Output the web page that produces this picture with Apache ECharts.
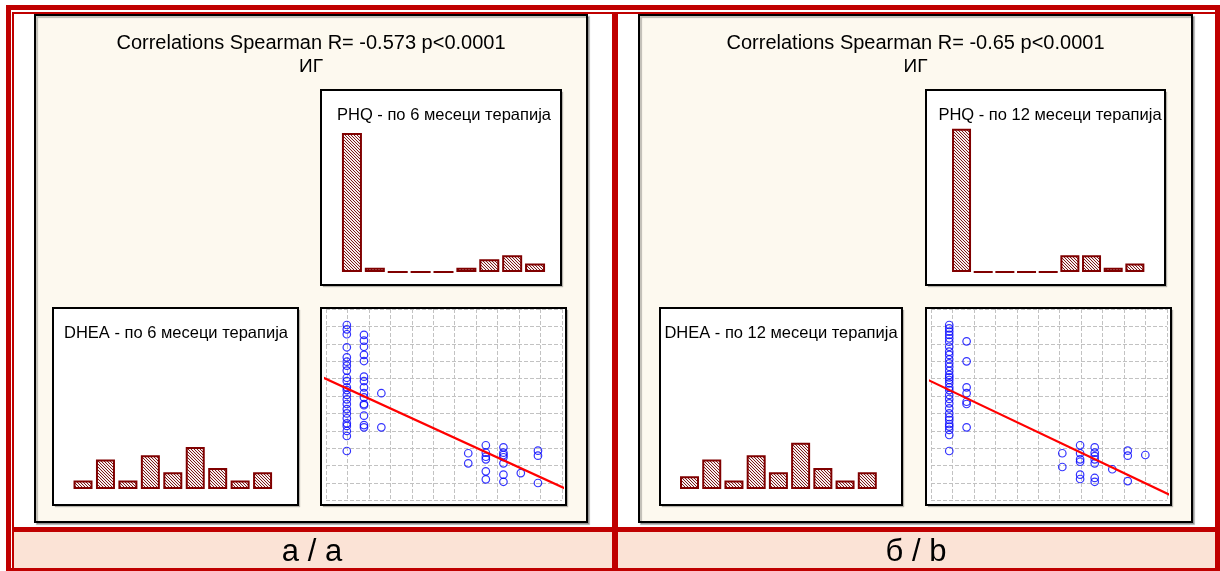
<!DOCTYPE html>
<html>
<head>
<meta charset="utf-8">
<style>
  html, body { margin: 0; padding: 0; background: #fff; }
  #chart { width: 1220px; height: 571px; }
</style>
<script src="https://cdn.jsdelivr.net/npm/echarts@6.0.0/dist/echarts.min.js"></script>
</head>
<body>
<div id="chart"></div>
<script>
// ---- data ----
const titles = ["Correlations Spearman R= -0.573 p<0.0001", "Correlations Spearman R= -0.65 p<0.0001"];
const groupLabel = "ИГ";
const phqLabels = ["PHQ - по 6 месеци терапија", "PHQ - по 12 месеци терапија"];
const dheaLabels = ["DHEA - по 6 месеци терапија", "DHEA - по 12 месеци терапија"];
const panelCaptions = ["а / a", "б / b"];

const bins = ["1", "2", "3", "4", "5", "6", "7", "8", "9"];
const phq6 = [33, 1, 0, 0, 0, 1, 3, 4, 2];
const dhea6 = [2, 7, 2, 8, 4, 10, 5, 2, 4];
const phq12 = [34, 0, 0, 0, 0, 4, 4, 1, 2];
const dhea12 = [3, 7, 2, 8, 4, 11, 5, 2, 4];

// scatter points in grid units (x: PHQ, y: DHEA)
const scatter6 = [
  [0.97, 10.08], [0.97, 9.83], [0.97, 9.55], [0.97, 8.80], [0.97, 8.22], [0.97, 7.97], [0.97, 7.74],
  [0.97, 7.46], [0.97, 7.05], [0.97, 6.86], [0.97, 6.50], [0.97, 6.34], [0.97, 6.06], [0.97, 5.81],
  [0.97, 5.54], [0.97, 5.25], [0.97, 5.00], [0.97, 4.72], [0.97, 4.43], [0.97, 4.28], [0.97, 3.99],
  [0.97, 3.70], [0.97, 2.84],
  [1.77, 9.51], [1.77, 9.18], [1.77, 8.83], [1.77, 8.36], [1.77, 8.01], [1.77, 7.11], [1.77, 6.86],
  [1.77, 6.50], [1.77, 6.16], [1.77, 5.92], [1.77, 5.54], [1.77, 5.47], [1.77, 4.87], [1.77, 4.33],
  [1.77, 4.20],
  [2.58, 6.16], [2.58, 4.20],
  [6.63, 2.71], [6.63, 2.13],
  [7.45, 3.17], [7.45, 2.74], [7.45, 2.51], [7.45, 2.36], [7.45, 1.67], [7.45, 1.21],
  [8.27, 3.05], [8.27, 2.74], [8.27, 2.61], [8.27, 2.48], [8.27, 2.13], [8.27, 1.48], [8.27, 1.07],
  [9.08, 1.57],
  [9.88, 2.86], [9.88, 2.57], [9.88, 1.00]
];
const scatter12 = [
  [0.85, 10.08], [0.85, 9.89], [0.85, 9.70], [0.85, 9.51], [0.85, 9.32], [0.85, 9.12], [0.85, 8.83],
  [0.85, 8.55], [0.85, 8.36], [0.85, 8.11], [0.85, 7.88], [0.85, 7.68], [0.85, 7.44], [0.85, 7.21],
  [0.85, 7.07], [0.85, 6.92], [0.85, 6.73], [0.85, 6.50], [0.85, 6.34], [0.85, 6.06], [0.85, 5.83],
  [0.85, 5.58], [0.85, 5.29], [0.85, 5.00], [0.85, 4.78], [0.85, 4.62], [0.85, 4.39], [0.85, 4.24],
  [0.85, 4.05], [0.85, 3.76], [0.85, 2.84],
  [1.66, 9.14], [1.66, 7.99], [1.66, 6.50], [1.66, 6.16], [1.66, 5.67], [1.66, 5.54], [1.66, 4.20],
  [6.12, 2.71], [6.12, 1.92],
  [6.95, 3.17], [6.95, 2.71], [6.95, 2.36], [6.95, 2.22], [6.95, 1.48], [6.95, 1.23],
  [7.63, 3.05], [7.63, 2.74], [7.63, 2.55], [7.63, 2.36], [7.63, 2.13], [7.63, 1.29], [7.63, 1.07],
  [8.45, 1.79],
  [9.17, 2.86], [9.17, 2.57], [9.17, 1.11],
  [9.99, 2.61]
];
// fitted line end points
const fit6 = [[-0.23, 7.11], [11.14, 0.69]];
const fit12 = [[-0.23, 6.98], [11.14, 0.31]];

// ---- layout ----
const RED = "#c00000";
const PINK = "#fbe3d6";
const CREAM = "#fdf9ef";
const BAR_MAX = 36;
const PX_PER_COUNT = 4.21;

const panels = [
  {
    title: titles[0], phqLabel: phqLabels[0], dheaLabel: dheaLabels[0], caption: panelCaptions[0],
    phq: phq6, dhea: dhea6, points: scatter6, fit: fit6,
    frame: [35, 15, 552, 507], cx: 311, capX: 312,
    phqBox: [321, 90, 240, 195], dheaBox: [53, 308, 245, 197], scBox: [321, 308, 245, 197],
    phqGrid: [340.5, 206, 20], dheaGrid: [71.8, 202, 19], phqTextX: 444, dheaTextX: 176
  },
  {
    title: titles[1], phqLabel: phqLabels[1], dheaLabel: dheaLabels[1], caption: panelCaptions[1],
    phq: phq12, dhea: dhea12, points: scatter12, fit: fit12,
    frame: [639, 15, 553, 507], cx: 915.5, capX: 916,
    phqBox: [926, 90, 239, 195], dheaBox: [660, 308, 242, 197], scBox: [926, 308, 245, 197],
    phqGrid: [950.7, 195, 19], dheaGrid: [678.4, 200, 19], phqTextX: 1050, dheaTextX: 781
  }
];

function hatchCanvas() {
  const c = document.createElement("canvas");
  c.width = 3; c.height = 3;
  const g = c.getContext("2d");
  g.fillStyle = "#f7eeee";
  g.fillRect(0, 0, 3, 3);
  g.fillStyle = "#7a1a1a";
  for (let i = 0; i < 3; i++) g.fillRect(i, i, 1, 1);
  return c;
}
const hatch = hatchCanvas();

const graphics = [];
function rect(x, y, w, h, style, z) {
  graphics.push({ type: "rect", silent: true, z: z || 0, shape: { x, y, width: w, height: h }, style });
}
function text(x, y, str, size, z) {
  graphics.push({
    type: "text", silent: true, z: z || 20, x, y,
    style: {
      text: str, fill: "#000", fontSize: size, fontFamily: "Liberation Sans, Arial, sans-serif",
      align: "center", verticalAlign: "middle", textAlign: "center", textVerticalAlign: "middle"
    }
  });
}
function box(b, fill, z) {
  rect(b[0], b[1], b[2], b[3], {
    fill, shadowColor: "rgba(0,0,0,0.28)", shadowOffsetX: 2, shadowOffsetY: 2, shadowBlur: 1
  }, z);
  rect(b[0], b[1], b[2], b[3], { fill: null, stroke: "#000", lineWidth: 2 }, z + 30);
}

// outer frame
rect(6, 5, 1214, 5, { fill: RED });
rect(6, 5, 5, 566, { fill: RED });
rect(1215, 5, 5, 566, { fill: RED });
rect(6, 568, 1214, 3, { fill: RED });
rect(12, 12, 1203, 2, { fill: RED });
rect(12, 12, 2, 556, { fill: RED });
rect(612, 12, 6, 556, { fill: RED });
rect(12, 527, 1203, 5, { fill: RED });
rect(14, 532, 598, 36, { fill: PINK });
rect(618, 532, 597, 36, { fill: PINK });

const grid = [], xAxis = [], yAxis = [], series = [];

function addBars(values, g, baseline) {
  const i = grid.length;
  const h = BAR_MAX * PX_PER_COUNT;
  grid.push({ left: g[0], top: baseline - h, width: g[1], height: h });
  xAxis.push({ type: "category", gridIndex: i, data: bins, show: false });
  yAxis.push({ type: "value", gridIndex: i, min: 0, max: BAR_MAX, show: false });
  series.push({
    type: "bar", xAxisIndex: i, yAxisIndex: i, data: values, barWidth: g[2], z: 5,
    itemStyle: { color: { image: hatch, repeat: "repeat" }, borderColor: "#800000", borderWidth: 2 }
  });
}

function addScatter(p) {
  const i = grid.length;
  grid.push({ left: p.scBox[0] + 5, top: 309, width: 236, height: 191.4 });
  const ax = {
    type: "value", gridIndex: i, min: 0, max: 11, interval: 1, z: 4,
    axisLine: { show: false }, axisTick: { show: false }, axisLabel: { show: false },
    splitLine: { show: true, lineStyle: { color: "#c2c2c2", width: 1, type: [4, 2] } }
  };
  xAxis.push(Object.assign({}, ax));
  yAxis.push(Object.assign({}, ax));
  series.push({
    type: "scatter", xAxisIndex: i, yAxisIndex: i, data: p.points, symbol: "circle", symbolSize: 7.5, z: 6,
    itemStyle: { color: "rgba(0,0,0,0)", borderColor: "#0000ff", borderWidth: 1.2 }
  });
  series.push({
    type: "line", xAxisIndex: i, yAxisIndex: i, data: p.fit, symbol: "none", clip: false, z: 7,
    lineStyle: { color: "#ff0000", width: 2.2 }
  });
}

panels.forEach((p) => {
  rect(p.frame[0], p.frame[1], p.frame[2], p.frame[3], {
    fill: CREAM, stroke: "#000", lineWidth: 2,
    shadowColor: "rgba(0,0,0,0.25)", shadowOffsetX: 2, shadowOffsetY: 2, shadowBlur: 1
  }, 1);
  box(p.phqBox, "#fff", 2);
  box(p.dheaBox, "#fff", 2);
  box(p.scBox, "#fff", 2);
  text(p.cx, 43, p.title, 20);
  text(p.cx, 67, groupLabel, 19);
  text(p.phqTextX, 115, p.phqLabel, 16.5);
  text(p.dheaTextX, 333, p.dheaLabel, 16.5);
  text(p.capX, 552, p.caption, 31);
  addBars(p.phq, p.phqGrid, 272);
  addBars(p.dhea, p.dheaGrid, 489);
  addScatter(p);
});

const chart = echarts.init(document.getElementById("chart"), null, { renderer: "canvas" });
chart.setOption({
  animation: false,
  backgroundColor: "#fff",
  graphic: { elements: graphics },
  grid, xAxis, yAxis, series
});
</script>
</body>
</html>
